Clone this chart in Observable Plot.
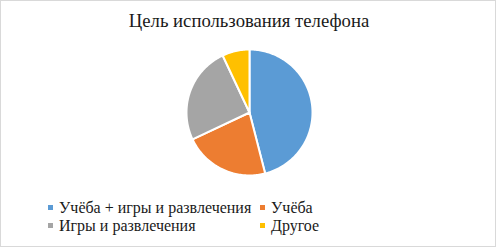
<!DOCTYPE html>
<html>
<head>
<meta charset="utf-8">
<script src="https://cdn.jsdelivr.net/npm/d3@7"></script>
<script src="https://cdn.jsdelivr.net/npm/@observablehq/plot@0.6"></script>
<style>
  html, body { margin: 0; padding: 0; background: #fff; }
  #wrap { position: relative; width: 498px; height: 249px; overflow: hidden; }
  #frame { position: absolute; left: 0; top: 0; width: 494px; height: 245px; border: 1px solid #d9d9d9; }
  #title { position: absolute; left: 0; width: 498px; top: 10px; text-align: center;
           font-family: "Liberation Serif", "Times New Roman", serif; font-size: 18.7px; color: #1a1a1a; }
  .leg { position: absolute; font-family: "Liberation Serif", "Times New Roman", serif; font-size: 16px;
         color: #1a1a1a; white-space: nowrap; line-height: 18px; }
  .sw { display: inline-block; width: 5px; height: 5px; margin-right: 6px; vertical-align: 3px; }
  #chart { position: absolute; left: 0; top: 0; }
</style>
</head>
<body>
<div id="wrap">
  <div id="frame"></div>
  <div id="chart"></div>
  <div id="title"></div>
  <div id="legend"></div>
</div>
<script>
const title = "Цель использования телефона";
const categories = ["Учёба + игры и развлечения", "Учёба", "Игры и развлечения", "Другое"];
const values = [46, 22, 25, 7];
const colors = ["#5B9BD5", "#ED7D31", "#A5A5A5", "#FFC000"];

const data = categories.map((c, i) => ({category: c, value: values[i]}));
const arcs = d3.pie().sort(null).value(d => d.value)(data);

// Build planar polygons (screen-like coords, y down) for each slice
function wedge(a) {
  const pts = [[0, 0]];
  const n = Math.max(4, Math.ceil((a.endAngle - a.startAngle) / 0.02));
  for (let k = 0; k <= n; k++) {
    const t = a.startAngle + (a.endAngle - a.startAngle) * k / n;
    pts.push([Math.sin(t), -Math.cos(t)]);
  }
  pts.push([0, 0]);
  return {type: "Feature", properties: {category: a.data.category}, geometry: {type: "Polygon", coordinates: [pts.reverse()]}};
}
const features = arcs.map(wedge);
const circle = {type: "Polygon", coordinates: [d3.range(0, 361, 5).map(t => [Math.sin(t*Math.PI/180), -Math.cos(t*Math.PI/180)])]};

const plot = Plot.plot({
  width: 498,
  height: 249,
  marginLeft: 186,
  marginRight: 186,
  marginTop: 49,
  marginBottom: 74,
  projection: {type: "identity", domain: circle},
  color: {domain: categories, range: colors},
  marks: [
    Plot.geo(features, {fill: d => d.properties.category, stroke: "white", strokeWidth: 2, strokeLinejoin: "round"})
  ]
});
document.getElementById("chart").appendChild(plot);
document.getElementById("title").textContent = title;

const legendPos = [[48, 199], [260, 199], [48, 217], [260, 217]];
const legend = document.getElementById("legend");
categories.forEach((c, i) => {
  const el = document.createElement("div");
  el.className = "leg";
  el.style.left = legendPos[i][0] + "px";
  el.style.top = legendPos[i][1] + "px";
  const sw = document.createElement("span");
  sw.className = "sw";
  sw.style.background = colors[i];
  el.appendChild(sw);
  el.appendChild(document.createTextNode(c));
  legend.appendChild(el);
});
</script>
</body>
</html>
